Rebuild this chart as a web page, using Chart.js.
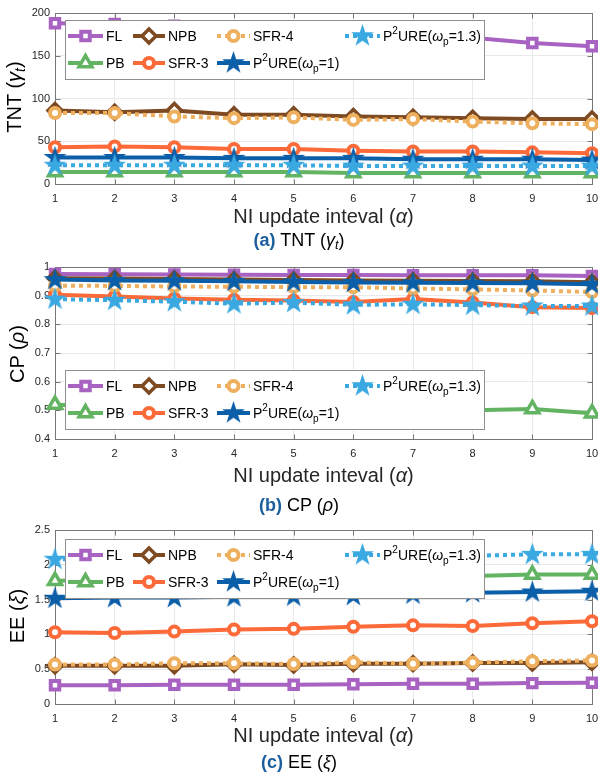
<!DOCTYPE html>
<html>
<head>
<meta charset="utf-8">
<script src="https://cdn.jsdelivr.net/npm/chart.js@4.4.1/dist/chart.umd.min.js"></script>
<style>
body { margin: 0; background: #fff; width: 598px; height: 776px; position: relative; overflow: hidden; font-family: "Liberation Sans", Arial, sans-serif; color: #000; }
canvas { position: absolute; left: 0; }
.ytitle { position: absolute; font-size: 20px; line-height: 20px; white-space: nowrap; transform: translate(-50%, -50%) rotate(-90deg); }
.xtitle { position: absolute; left: 55px; width: 537px; text-align: center; font-size: 20px; line-height: 20px; color: #262626; }
.cap { position: absolute; left: 0; width: 598px; text-align: center; font-size: 18px; line-height: 18px; }
.cap b { color: #1b5e9e; }
sub { font-size: 70%; vertical-align: -0.25em; }
</style>
</head>
<body>
<canvas id="c1" width="598" height="227" style="top:0px"></canvas>
<canvas id="c2" width="598" height="231" style="top:254px"></canvas>
<canvas id="c3" width="598" height="228" style="top:517px"></canvas>

<div class="ytitle" style="left:17px;top:97px">TNT (<i>γ<sub>t</sub></i>)</div>
<div class="xtitle" style="top:206px">NI update inteval (<i>α</i>)</div>
<div class="cap" style="top:231px"><b>(a)</b> TNT (<i>γ<sub>t</sub></i>)</div>

<div class="ytitle" style="left:17px;top:354px">CP (<i>ρ</i>)</div>
<div class="xtitle" style="top:465px">NI update inteval (<i>α</i>)</div>
<div class="cap" style="top:496px"><b>(b)</b> CP (<i>ρ</i>)</div>

<div class="ytitle" style="left:17px;top:616px">EE (<i>ξ</i>)</div>
<div class="xtitle" style="top:725px">NI update inteval (<i>α</i>)</div>
<div class="cap" style="top:753px"><b>(c)</b> EE (<i>ξ</i>)</div>

<script>
const xLabels = ['1', '2', '3', '4', '5', '6', '7', '8', '9', '10'];
const seriesNames = ['FL', 'PB', 'NPB', 'SFR-3', 'SFR-4', 'P^2URE(ω_p=1)', 'P^2URE(ω_p=1.3)'];

// (a) TNT
const tntFL = [188, 187, 185, 183, 180, 177, 174, 171, 165, 161];
const tntPB = [14, 14, 14, 14, 14, 13, 13, 13, 13, 13];
const tntNPB = [86, 84, 86, 81, 81, 79, 78, 77, 76, 76];
const tntSFR3 = [43, 44, 43, 41, 41, 39, 38, 38, 37, 36];
const tntSFR4 = [83, 83, 79, 77, 78, 75, 76, 73, 71, 70];
const tntP2U1 = [31, 31, 31, 30, 30, 30, 29, 29, 29, 28];
const tntP2U13 = [22, 22, 22, 22, 22, 21, 21, 21, 21, 21];

// (b) CP
const cpFL = [0.976, 0.975, 0.974, 0.973, 0.972, 0.972, 0.971, 0.971, 0.971, 0.969];
const cpPB = [0.52, 0.51, 0.51, 0.5, 0.5, 0.5, 0.5, 0.5, 0.505, 0.49];
const cpNPB = [0.961, 0.96, 0.958, 0.956, 0.955, 0.953, 0.952, 0.951, 0.95, 0.947];
const cpSFR3 = [0.903, 0.897, 0.89, 0.886, 0.883, 0.878, 0.888, 0.876, 0.86, 0.857];
const cpSFR4 = [0.935, 0.934, 0.932, 0.931, 0.93, 0.929, 0.925, 0.922, 0.918, 0.913];
const cpP2U1 = [0.956, 0.953, 0.952, 0.95, 0.948, 0.946, 0.945, 0.944, 0.943, 0.94];
const cpP2U13 = [0.888, 0.884, 0.879, 0.872, 0.876, 0.868, 0.87, 0.867, 0.864, 0.864];

// (c) EE
const eeFL = [0.27, 0.27, 0.275, 0.275, 0.275, 0.285, 0.29, 0.29, 0.3, 0.305];
const eePB = [1.77, 1.78, 1.79, 1.8, 1.81, 1.82, 1.83, 1.84, 1.86, 1.86];
const eeNPB = [0.55, 0.55, 0.55, 0.57, 0.56, 0.58, 0.58, 0.59, 0.59, 0.6];
const eeSFR3 = [1.03, 1.02, 1.04, 1.07, 1.08, 1.11, 1.13, 1.12, 1.16, 1.19];
const eeSFR4 = [0.567, 0.567, 0.585, 0.585, 0.575, 0.6, 0.58, 0.595, 0.615, 0.625];
const eeP2U1 = [1.52, 1.53, 1.53, 1.54, 1.55, 1.56, 1.58, 1.6, 1.61, 1.62];
const eeP2U13 = [2.08, 2.09, 2.1, 2.1, 2.11, 2.12, 2.13, 2.13, 2.15, 2.15];

const colors = ['#a862c2', '#62b462', '#7d4a21', '#fd6a39', '#eeb05e', '#0b5ea8', '#3aa8e1'];
const markers = ['rect', 'triangle', 'rectRot', 'circle', 'circle', 'star', 'star'];
const dashed = [false, false, false, false, true, false, true];
const radii = { rect: 6, triangle: 7.5, rectRot: 7, circle: 5, star: 12 };
const edge = { rect: 4, triangle: 3.5, rectRot: 3.5, circle: 4, star: 0 };

function makeStar(color) {
  const c = document.createElement('canvas');
  c.width = 25; c.height = 25;
  const g = c.getContext('2d');
  g.fillStyle = color;
  g.beginPath();
  for (let i = 0; i < 10; i++) {
    const r = i % 2 ? 4.6 : 12;
    const a = -Math.PI / 2 + i * Math.PI / 5;
    g.lineTo(12.5 + r * Math.cos(a), 12.8 + r * Math.sin(a));
  }
  g.closePath();
  g.fill();
  return c;
}
const stars = colors.map(makeStar);

function drawMarker(ctx, i, x, y) {
  const m = markers[i];
  const r = radii[m];
  if (m === 'star') { ctx.drawImage(stars[i], x - 12.5, y - 12.8); return; }
  ctx.save();
  ctx.fillStyle = '#fff';
  ctx.strokeStyle = colors[i];
  ctx.lineWidth = edge[m];
  ctx.setLineDash([]);
  ctx.beginPath();
  if (m === 'rect') {
    const s = r * Math.SQRT1_2;
    ctx.rect(x - s, y - s, 2 * s, 2 * s);
  } else if (m === 'rectRot') {
    ctx.moveTo(x - r, y); ctx.lineTo(x, y - r); ctx.lineTo(x + r, y); ctx.lineTo(x, y + r); ctx.closePath();
  } else if (m === 'triangle') {
    let a = 0;
    ctx.moveTo(x + Math.sin(a) * r, y - Math.cos(a) * r);
    a += 2 * Math.PI / 3; ctx.lineTo(x + Math.sin(a) * r, y - Math.cos(a) * r);
    a += 2 * Math.PI / 3; ctx.lineTo(x + Math.sin(a) * r, y - Math.cos(a) * r);
    ctx.closePath();
  } else {
    ctx.arc(x, y, r, 0, Math.PI * 2);
  }
  ctx.fill();
  ctx.stroke();
  ctx.restore();
}

// text like P^2URE(ω_p=1): ^x superscript, _x subscript
function drawRich(ctx, text, x, y, size) {
  let cx = x;
  for (let k = 0; k < text.length; k++) {
    let ch = text[k], dy = 0, fs = size;
    if (ch === '^' || ch === '_') {
      dy = ch === '^' ? -size * 0.4 : size * 0.35;
      fs = size * 0.72;
      ch = text[++k];
    }
    ctx.font = (ch === 'ω' ? 'italic ' : '') + fs + 'px "Liberation Sans", Arial, sans-serif';
    ctx.fillText(ch, cx, y + dy);
    cx += ctx.measureText(ch).width;
  }
}

// legend layout: [col, row] for each series
const legendSlots = [[0, 0], [0, 1], [1, 0], [1, 1], [2, 0], [2, 1], [3, 0]];
const colX = [3, 68, 152, 280];
const colW = [35, 32, 33, 35];

const boxLegend = {
  id: 'boxLegend',
  afterDatasetsDraw(chart) {
    const opt = chart.options.plugins.boxLegend;
    const ctx = chart.ctx;
    const left = chart.chartArea.left + 10;
    const top = chart.chartArea.top + opt.offset;
    ctx.save();
    ctx.fillStyle = '#fff';
    ctx.fillRect(left, top, 419, 59);
    ctx.strokeStyle = '#8f8f8f';
    ctx.lineWidth = 1;
    ctx.strokeRect(left + 0.5, top + 0.5, 419, 59);
    seriesNames.forEach((name, i) => {
      const [col, row] = legendSlots[i];
      const sx = left + colX[col];
      const y = top + 16 + row * 27;
      ctx.strokeStyle = colors[i];
      ctx.lineWidth = 4;
      ctx.setLineDash(dashed[i] ? [4, 4] : []);
      ctx.beginPath();
      ctx.moveTo(sx, y);
      ctx.lineTo(sx + colW[col], y);
      ctx.stroke();
      drawMarker(ctx, i, sx + colW[col] / 2, y);
      ctx.fillStyle = '#000';
      ctx.textBaseline = 'middle';
      drawRich(ctx, name, sx + colW[col] + 3, y + 1, 14);
    });
    ctx.restore();
  }
};

// box round the plot with inward tick marks, like matlab
const frame = {
  id: 'frame',
  beforeDatasetsDraw(chart) {
    const a = chart.chartArea;
    const ctx = chart.ctx;
    const L = Math.round(a.left) + 0.5, R = Math.round(a.right) + 0.5;
    const T = Math.round(a.top) + 0.5, B = Math.round(a.bottom) + 0.5;
    ctx.save();
    ctx.strokeStyle = '#777';
    ctx.lineWidth = 1;
    ctx.strokeRect(L, T, R - L, B - T);
    ctx.beginPath();
    const xs = chart.scales.x, ys = chart.scales.y;
    xs.ticks.forEach((t, k) => {
      const px = Math.round(xs.getPixelForTick(k)) + 0.5;
      ctx.moveTo(px, B); ctx.lineTo(px, B - 5);
      ctx.moveTo(px, T); ctx.lineTo(px, T + 5);
    });
    ys.ticks.forEach((t, k) => {
      const py = Math.round(ys.getPixelForTick(k)) + 0.5;
      ctx.moveTo(L, py); ctx.lineTo(L + 5, py);
      ctx.moveTo(R, py); ctx.lineTo(R - 5, py);
    });
    ctx.stroke();
    ctx.restore();
  }
};

function makePanel(id, series, yMin, yMax, step, xAxisH, legendOffset) {
  const datasets = series.map((vals, i) => ({
    label: seriesNames[i].replace('^', '').replace('_', ''),
    data: vals,
    borderColor: colors[i],
    borderWidth: 4,
    borderDash: dashed[i] ? [4, 4] : [],
    borderJoinStyle: 'round',
    backgroundColor: '#fff',
    pointStyle: markers[i] === 'star' ? stars[i] : markers[i],
    pointRadius: radii[markers[i]],
    pointBorderWidth: edge[markers[i]],
    pointBorderColor: colors[i],
    pointBackgroundColor: '#fff',
    tension: 0,
    clip: false,
    order: series.length - i
  }));
  return new Chart(document.getElementById(id), {
    type: 'line',
    data: { labels: xLabels, datasets },
    options: {
      responsive: false,
      animation: false,
      devicePixelRatio: 1,
      layout: { autoPadding: false, padding: { top: 13, right: 6, left: 0, bottom: 0 } },
      plugins: {
        legend: { display: false },
        tooltip: { enabled: false },
        boxLegend: { offset: legendOffset }
      },
      scales: {
        x: {
          offset: false,
          grid: { color: '#e9e9e9', drawTicks: false },
          border: { display: false },
          ticks: { color: '#262626', font: { size: 11, family: '"Liberation Sans", Arial' }, padding: 8, maxRotation: 0, autoSkip: false },
          afterFit: s => { s.height = xAxisH; s.paddingLeft = 0; s.paddingRight = 0; }
        },
        y: {
          min: yMin, max: yMax,
          grid: { color: '#e9e9e9', drawTicks: false },
          border: { display: false },
          ticks: {
            stepSize: step,
            color: '#262626',
            font: { size: 11, family: '"Liberation Sans", Arial' },
            padding: 5,
            callback: v => String(+v.toFixed(2))
          },
          afterFit: s => { s.width = 55; s.paddingTop = 0; s.paddingBottom = 0; }
        }
      }
    },
    plugins: [frame, boxLegend]
  });
}

makePanel('c1', [tntFL, tntPB, tntNPB, tntSFR3, tntSFR4, tntP2U1, tntP2U13], 0, 200, 50, 43, 7);
makePanel('c2', [cpFL, cpPB, cpNPB, cpSFR3, cpSFR4, cpP2U1, cpP2U13], 0.4, 1, 0.1, 46, 103);
makePanel('c3', [eeFL, eePB, eeNPB, eeSFR3, eeSFR4, eeP2U1, eeP2U13], 0, 2.5, 0.5, 41, 9);
</script>
</body>
</html>
